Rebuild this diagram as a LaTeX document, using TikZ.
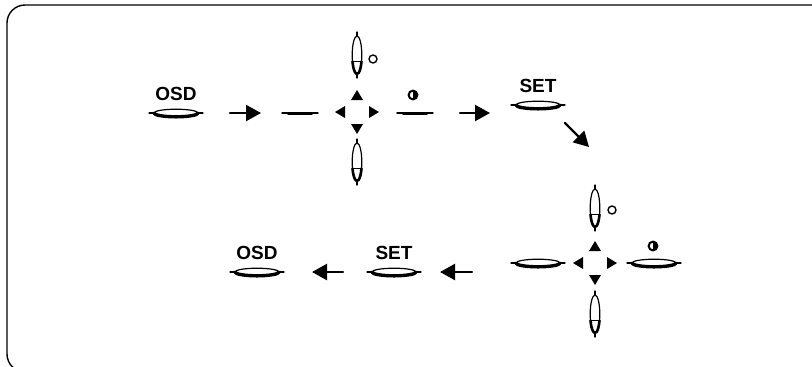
\documentclass[tikz,border=0pt]{standalone}
\usepackage{fontspec}
\setmainfont{Liberation Sans}
\usetikzlibrary{arrows.meta}
\usetikzlibrary{positioning}
\usetikzlibrary{shapes.geometric}
\tikzset{
  key/.style={draw, ellipse, line width=0.6pt, inner sep=0pt, outer sep=0pt, minimum width=22pt, minimum height=3.8pt},
  vkey/.style={draw, ellipse, line width=0.6pt, inner sep=0pt, outer sep=0pt, minimum width=4.8pt, minimum height=19pt},
  flatkey/.style={inner sep=0pt, outer sep=0pt, minimum width=18pt, minimum height=1pt},
  flow/.style={-{Triangle[length=7.5pt,width=8pt]}, line width=1.1pt},
  keylabel/.style={font=\fontsize{9.5}{11}\selectfont\bfseries, inner sep=0.5pt},
  ring/.style={draw, circle, line width=0.7pt, inner sep=0pt, minimum size=4pt},
  halfring/.style={line width=1pt, minimum size=4.4pt, path picture={\fill (path picture bounding box.north) rectangle (path picture bounding box.south east);}}
}
\begin{document}
\begin{tikzpicture}[line cap=round,line join=round,x=0.5pt,y=-0.5pt]
\useasboundingbox (0,0) rectangle (812,366);
\clip (0,0) rectangle (812,366);
\draw[line width=0.7pt, rounded corners=9pt] (7,5) rectangle (830,372);
% upper row
\node[key] (osdA) at (176,113) {};
\node[keylabel, above=3.5pt of osdA] (osdAt) {OSD};
\node[flatkey] (dashA) at (300,113) {};
\coordinate (padA) at (357,112);
\node[vkey] (upA) at (357,55) {};
\node[vkey] (downA) at (357,162) {};
\node[ring] (ringA) at (373,59) {};
\node[flatkey] (rightA) at (415,113) {};
\node[ring, halfring] (halfA) at (413,95) {};
\coordinate (arrB) at (490,113);
\node[key] (setA) at (538,105) {};
\node[keylabel, above=3.5pt of setA] (setAt) {SET};
\coordinate (diagS) at (565,123);
\coordinate (diagE) at (589,147);
% lower row
\coordinate (padB) at (595,263);
\node[vkey] (upB) at (595,208) {};
\node[vkey] (downB) at (595,314) {};
\node[ring] (ringB) at (612,210) {};
\node[key] (leftB) at (538,263) {};
\node[key] (rightB) at (654,263) {};
\node[ring, halfring] (halfB) at (653,246) {};
\coordinate (arrC) at (472,272);
\node[key] (setB) at (394,272) {};
\node[keylabel, above=3.5pt of setB] (setBt) {SET};
\node[key] (osdB) at (257,272) {};
\node[keylabel, above=3.5pt of osdB] (osdBt) {OSD};
% key outlines
\foreach \k in {osdA,setA,leftB,rightB,setB,osdB} {
  \draw[line width=0.6pt] ([xshift=-2.5pt]\k.west) -- (\k.west);
  \draw[line width=0.6pt] (\k.east) -- ([xshift=2.5pt]\k.east);
  \draw[line width=1.7pt] (\k.west) arc[start angle=180, end angle=360, x radius=11pt, y radius=1.9pt];
}
\foreach \k in {upA,downA,upB,downB} {
  \draw[line width=0.6pt] ([yshift=2pt]\k.north) -- (\k.north);
  \draw[line width=0.6pt] (\k.south) -- ([yshift=-2pt]\k.south);
  \draw[line width=1.3pt] ([shift={(200:2.4pt and 9.5pt)}]\k.center) arc[start angle=200, end angle=340, x radius=2.4pt, y radius=9.5pt];
  \draw[line width=0.8pt] ([shift={(200:2.4pt and 9.5pt)}]\k.center) -- ([shift={(340:2.4pt and 9.5pt)}]\k.center);
}
\foreach \k in {dashA,rightA} {
  \draw[line width=0.7pt] (\k.west) -- (\k.east);
  \draw[line width=1.3pt] ([xshift=-6pt,yshift=-0.3pt]\k.center) -- ([xshift=6pt,yshift=-0.3pt]\k.center);
}
% cursor triangles
\foreach \p in {padA,padB}
\foreach \a in {0,90,180,270}
\fill[shift={(\p)}, rotate=\a] (22,0) -- (12,6) -- (12,-6) -- cycle;
% arrows
\draw[flow, shorten <=16pt, shorten >=10.5pt] (osdA) -- (dashA);
\draw[flow, shorten <=13.5pt] (rightA) -- (arrB);
\draw[flow] (diagS) -- (diagE);
\draw[flow, shorten >=12pt] (arrC) -- (setB);
\draw[flow, shorten <=14.5pt, shorten >=16.5pt] (setB) -- (osdB);
\end{tikzpicture}
\end{document}
